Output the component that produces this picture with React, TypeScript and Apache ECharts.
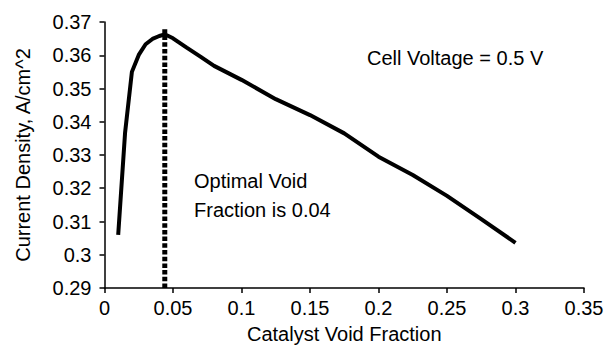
import React, { useEffect, useRef } from "react";
import * as echarts from "echarts";

const voidFraction = [0.01, 0.015, 0.02, 0.025, 0.03, 0.035, 0.04, 0.044, 0.05, 0.06, 0.07, 0.08, 0.1, 0.125, 0.15, 0.175, 0.2, 0.225, 0.25, 0.275, 0.3];
const currentDensity = [0.306, 0.3366, 0.355, 0.3601, 0.3633, 0.3649, 0.3658, 0.3663, 0.3651, 0.3623, 0.3596, 0.3568, 0.3526, 0.3468, 0.342, 0.3365, 0.3295, 0.324, 0.3177, 0.3107, 0.3036];
const optimalX = 0.044;
const optimalLineY = [0.29, 0.3678];
const xTicks = { min: 0, max: 0.35, interval: 0.05 };
const yTicks = { min: 0.29, max: 0.37, interval: 0.01 };

const FONT = "'Liberation Sans', Arial, sans-serif";

export default function App() {
  const ref = useRef<HTMLDivElement>(null);
  useEffect(() => {
    if (!ref.current) return;
    const chart = echarts.init(ref.current, null, { renderer: "svg" });
    const axisCommon = {
      axisLine: { show: true, lineStyle: { color: "#000", width: 1.5 } },
      axisTick: { show: true, length: 5, inside: false, lineStyle: { color: "#000", width: 1.5 } },
      splitLine: { show: false },
      nameTextStyle: { fontFamily: FONT, fontSize: 20, color: "#000" },
    };
    chart.setOption({
      animation: false,
      backgroundColor: "#fff",
      grid: { left: 104.5, right: 31, top: 22, bottom: 62, containLabel: false },
      xAxis: {
        type: "value",
        ...xTicks,
        ...axisCommon,
        name: "Catalyst Void Fraction",
        nameLocation: "middle",
        nameGap: 36,
        axisLabel: {
          fontFamily: FONT,
          fontSize: 20,
          color: "#000",
          margin: 10,
          formatter: (v: number) => String(parseFloat(v.toFixed(3))),
        },
      },
      yAxis: {
        type: "value",
        ...yTicks,
        ...axisCommon,
        name: "Current Density, A/cm^2",
        nameLocation: "middle",
        nameGap: 72,
        axisLabel: {
          fontFamily: FONT,
          fontSize: 20,
          color: "#000",
          margin: 13,
          formatter: (v: number) => String(parseFloat(v.toFixed(3))),
        },
      },
      series: [
        {
          type: "line",
          data: voidFraction.map((x, i) => [x, currentDensity[i]]),
          showSymbol: false,
          smooth: false,
          lineStyle: { color: "#000", width: 4 },
        },
        {
          type: "line",
          data: optimalLineY.map((y) => [optimalX, y]),
          showSymbol: false,
          lineStyle: { color: "#000", width: 5, type: [4.5, 2.2] },
        },
      ],
      graphic: [
        {
          type: "text",
          left: 367,
          top: 48,
          style: { text: "Cell Voltage = 0.5 V", font: `20px ${FONT}`, fill: "#000" },
        },
        {
          type: "text",
          left: 194,
          top: 166,
          style: { text: "Optimal Void\nFraction is 0.04", font: `20px ${FONT}`, fill: "#000", lineHeight: 29 },
        },
      ],
    });
    return () => chart.dispose();
  }, []);
  return <div ref={ref} style={{ position: "fixed", left: 0, top: 0, width: 615, height: 350 }} />;
}
